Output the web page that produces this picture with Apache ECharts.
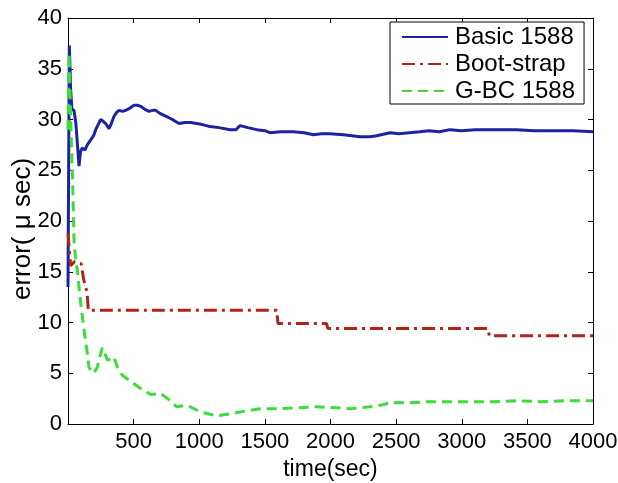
<!DOCTYPE html>
<html>
<head>
<meta charset="utf-8">
<script src="https://cdn.jsdelivr.net/npm/echarts@6/dist/echarts.min.js"></script>
<style>html,body{margin:0;padding:0;background:#fff}#c{width:618px;height:483px}</style>
</head>
<body>
<div id="c"></div>
<script>
var xTicks = [0, 500, 1000, 1500, 2000, 2500, 3000, 3500, 4000];
var yTicks = [0, 5, 10, 15, 20, 25, 30, 35, 40];
var seriesNames = ['Basic 1588', 'Boot-strap', 'G-BC 1588'];

var basicT = [0,10,20,30,46,60,75,84,95,109,130,147,173,195,211,230,249,270,287,312,330,350,370,389,415,439,470,503,530,554,585,617,645,668,700,732,765,795,820,846,890,935,980,1024,1082,1150,1234,1280,1311,1370,1438,1500,1539,1620,1717,1800,1870,1930,1996,2100,2225,2300,2352,2454,2520,2600,2680,2750,2830,2910,3000,3100,3250,3418,3550,3700,3850,4000];
var basicV = [13.5,37.3,33,31,30.9,29.6,27,25.4,26.8,27.2,27,27.5,28.0,28.4,29.0,29.5,30.0,29.8,29.6,29.1,29.6,30.3,30.7,30.9,30.8,30.9,31.1,31.4,31.4,31.3,31.0,30.8,30.9,30.9,30.6,30.4,30.2,30.0,29.8,29.6,29.7,29.7,29.6,29.5,29.3,29.2,29.0,29.0,29.4,29.2,29.0,28.9,28.7,28.8,28.8,28.7,28.5,28.6,28.6,28.5,28.3,28.3,28.4,28.7,28.6,28.7,28.8,28.9,28.8,29.0,28.9,29.0,29.0,29.0,28.9,28.9,28.9,28.8];

var bootT = [0,20,50,100,120,145,155,1590,1600,1970,1980,3200,3210,4000];
var bootV = [18.8,15.6,16,15.8,14.2,13,11.2,11.2,9.9,9.9,9.4,9.4,8.7,8.7];

var gbcT = [0,8,15,25,35,46,60,71,84,97,122,147,160,185,205,223,261,280,300,330,350,376,414,478,554,630,706,760,828,880,930,1006,1133,1260,1360,1463,1600,1750,1895,2050,2149,2301,2400,2454,2600,2750,2910,3100,3250,3418,3600,3800,4000];
var gbcV = [29,36.5,33,28,24,18,16,15.2,13.5,11.9,9.3,7.0,5.6,5.0,5.2,5.6,7.5,7.0,6.3,6.4,6.6,5.6,4.8,4.2,3.5,2.9,3.0,2.5,1.7,1.8,1.7,1.2,0.8,1.05,1.3,1.5,1.5,1.6,1.7,1.6,1.5,1.7,1.9,2.1,2.1,2.2,2.2,2.2,2.2,2.3,2.2,2.3,2.3];

function pairs(t, v) { return t.map(function (x, i) { return [x, v[i]]; }); }

var FONT = 'Liberation Sans, Arial, sans-serif';
var chart = echarts.init(document.getElementById('c'), null, {renderer: 'canvas'});
function axisCommon() {
  return {
    axisLine: {show: true, onZero: false, lineStyle: {color: '#000', width: 1}},
    axisTick: {show: true, inside: true, length: 5, lineStyle: {color: '#000'}},
    splitLine: {show: false}
  };
}
chart.setOption({
  animation: false,
  backgroundColor: '#fff',
  grid: {left: 68, right: 25, top: 18, bottom: 59, containLabel: false, outerBoundsMode: 'none'},
  legend: {
    show: true,
    orient: 'vertical',
    left: 390, top: 22,
    data: seriesNames,
    backgroundColor: '#fff',
    borderColor: '#000', borderWidth: 1,
    padding: [3, 9, 1, 11],
    itemGap: 3,
    itemWidth: 46, itemHeight: 14,
    itemStyle: {opacity: 0},
    textStyle: {fontFamily: FONT, fontSize: 24, color: '#000', padding: [0, 0, 0, 2]}
  },
  xAxis: [
    Object.assign(axisCommon(), {
      type: 'value', min: xTicks[0], max: xTicks[xTicks.length - 1], interval: 500,
      position: 'bottom',
      name: 'time(sec)', nameLocation: 'middle', nameGap: 29,
      nameTextStyle: {fontFamily: FONT, fontSize: 23, color: '#000'},
      axisLabel: {fontFamily: FONT, fontSize: 22, color: '#000', margin: 7,
        formatter: function (v) { return v === 0 ? '' : String(v); }}
    }),
    Object.assign(axisCommon(), {
      type: 'value', min: xTicks[0], max: xTicks[xTicks.length - 1], interval: 500,
      position: 'top', axisLabel: {show: false}
    })
  ],
  yAxis: [
    Object.assign(axisCommon(), {
      type: 'value', min: yTicks[0], max: yTicks[yTicks.length - 1], interval: 5,
      position: 'left',
      name: 'error( \u03bc sec)', nameLocation: 'middle', nameGap: 32, nameMoveOverlap: false,
      nameTextStyle: {fontFamily: FONT, fontSize: 26, color: '#000', padding: [0, 16, 0, 0]},
      axisLabel: {fontFamily: FONT, fontSize: 22, color: '#000', margin: 6}
    }),
    Object.assign(axisCommon(), {
      type: 'value', min: yTicks[0], max: yTicks[yTicks.length - 1], interval: 5,
      position: 'right', axisLabel: {show: false}
    })
  ],
  series: [
    {name: seriesNames[0], type: 'line', data: pairs(basicT, basicV), symbol: 'none',
      lineStyle: {color: '#1a23a0', width: 3, type: 'solid'}, itemStyle: {color: '#1a23a0'}},
    {name: seriesNames[1], type: 'line', data: pairs(bootT, bootV), symbol: 'none',
      lineStyle: {color: '#b02418', width: 3, type: [13, 5, 3, 5]}, itemStyle: {color: '#b02418'}},
    {name: seriesNames[2], type: 'line', data: pairs(gbcT, gbcV), symbol: 'none',
      lineStyle: {color: '#3ddc3a', width: 3, type: [10, 6]}, itemStyle: {color: '#3ddc3a'}}
  ]
});
</script>
</body>
</html>
